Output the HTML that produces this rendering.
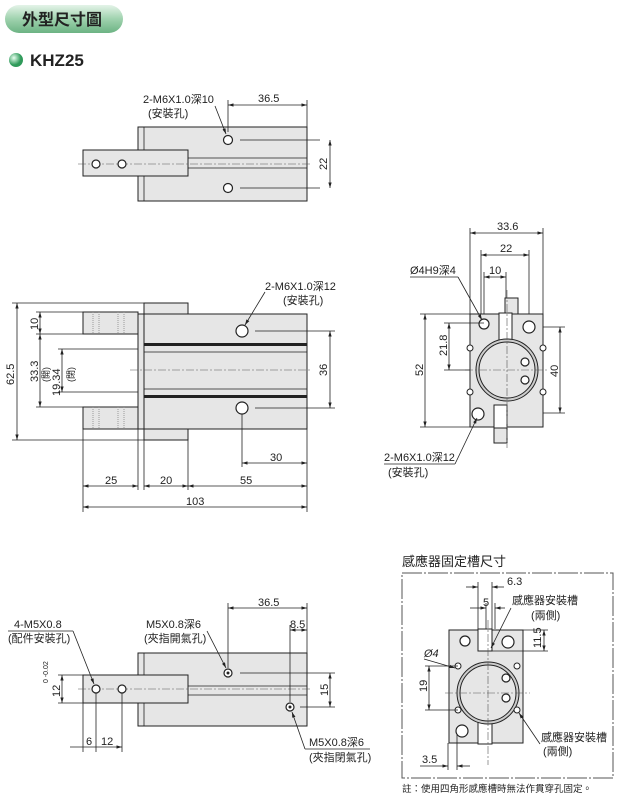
<!DOCTYPE html>
<html><head><meta charset="utf-8"><style>
body{margin:0;background:#fff}
svg{display:block}
text{font-family:"Liberation Sans","Noto Sans CJK TC",sans-serif;font-size:11px;fill:#222}
.b{fill:#e6e6e6;stroke:#222;stroke-width:1}
.l{stroke:#222;stroke-width:0.8;fill:none}
.c{stroke:#555;stroke-width:0.6;stroke-dasharray:8 2 2 2;fill:none}
.h{fill:#fff;stroke:#222;stroke-width:1.2}
</style></head><body>
<svg width="620" height="799" viewBox="0 0 620 799">
<defs>
<marker id="a" viewBox="0 0 10 10" refX="10" refY="5" markerWidth="7" markerHeight="7" orient="auto-start-reverse"><path d="M0,2 L10,5 L0,8z" fill="#222"/></marker>
<linearGradient id="g" x1="0" y1="0" x2="0" y2="1"><stop offset="0" stop-color="#e4f3e8"/><stop offset="0.5" stop-color="#9fd2ae"/><stop offset="1" stop-color="#6cb383"/></linearGradient>
<radialGradient id="ball" cx="0.35" cy="0.35"><stop offset="0" stop-color="#e8fff0"/><stop offset="1" stop-color="#2f9a5a"/></radialGradient>
</defs>
<rect x="5" y="5" width="118" height="28" rx="14" fill="url(#g)"/>
<text x="22" y="25" style="font-size:16px;font-weight:bold">外型尺寸圖</text>
<circle cx="16" cy="60" r="7" fill="url(#ball)"/>
<text x="30" y="66" style="font-size:17px;font-weight:bold">KHZ25</text>

<!-- top view -->
<rect class="b" x="138" y="127" width="169" height="74"/>
<line class="l" x1="144" y1="127" x2="144" y2="201"/>
<rect class="b" x="83" y="150" width="105" height="26"/>
<line class="l" x1="188" y1="158" x2="307" y2="158"/><line class="l" x1="188" y1="168" x2="307" y2="168"/>
<line class="c" x1="78" y1="164" x2="312" y2="164"/>
<circle class="h" cx="228" cy="140" r="4.5"/><circle class="h" cx="228" cy="188" r="4.5"/>
<circle class="h" cx="96" cy="164" r="4"/><circle class="h" cx="122" cy="164" r="4"/>
<line class="l" x1="240" y1="140" x2="320" y2="140"/><line class="l" x1="240" y1="188" x2="320" y2="188"/>
<line class="l" x1="228" y1="100" x2="228" y2="132"/><line class="l" x1="307" y1="100" x2="307" y2="127"/>
<line class="l" x1="228" y1="105" x2="307" y2="105" marker-start="url(#a)" marker-end="url(#a)"/>
<text x="258" y="102">36.5</text>
<line class="l" x1="330" y1="140" x2="330" y2="188" marker-start="url(#a)" marker-end="url(#a)"/>
<text transform="translate(327,170) rotate(-90)">22</text>
<text x="143" y="103">2-M6X1.0深10</text><text x="148" y="117">(安裝孔)</text>
<line class="l" x1="215" y1="106" x2="226" y2="134" marker-end="url(#a)"/>

<!-- front view -->
<rect class="b" x="144" y="303" width="44" height="137"/>
<rect class="b" x="144" y="314" width="163" height="115"/>
<rect class="b" x="138" y="314" width="6" height="115"/>
<rect class="b" x="83" y="312" width="55" height="22"/>
<rect class="b" x="83" y="407" width="55" height="22"/>
<g stroke="#999" stroke-dasharray="1 1"><line x1="93" y1="312" x2="93" y2="334"/><line x1="99" y1="312" x2="99" y2="334"/><line x1="118" y1="312" x2="118" y2="334"/><line x1="124" y1="312" x2="124" y2="334"/><line x1="93" y1="407" x2="93" y2="429"/><line x1="99" y1="407" x2="99" y2="429"/><line x1="118" y1="407" x2="118" y2="429"/><line x1="124" y1="407" x2="124" y2="429"/></g>
<rect x="144" y="343" width="163" height="3" fill="#222"/><rect x="144" y="395" width="163" height="3" fill="#222"/>
<line class="l" x1="144" y1="352" x2="307" y2="352"/><line class="l" x1="144" y1="389" x2="307" y2="389"/>
<line class="c" x1="130" y1="370" x2="312" y2="370"/>
<circle class="h" cx="242" cy="331" r="6"/><circle class="h" cx="242" cy="408" r="6"/>
<line class="l" x1="255" y1="331" x2="335" y2="331"/><line class="l" x1="255" y1="408" x2="335" y2="408"/>
<line class="l" x1="330" y1="331" x2="330" y2="408" marker-start="url(#a)" marker-end="url(#a)"/>
<text transform="translate(327,376) rotate(-90)">36</text>
<text x="265" y="290">2-M6X1.0深12</text><text x="283" y="304">(安裝孔)</text>
<line class="l" x1="265" y1="292" x2="245" y2="325" marker-end="url(#a)"/>
<line class="l" x1="12" y1="303" x2="144" y2="303"/><line class="l" x1="12" y1="440" x2="144" y2="440"/>
<line class="l" x1="17" y1="303" x2="17" y2="440" marker-start="url(#a)" marker-end="url(#a)"/>
<text transform="translate(14,385) rotate(-90)">62.5</text>
<line class="l" x1="36" y1="312" x2="83" y2="312"/><line class="l" x1="36" y1="334" x2="83" y2="334"/><line class="l" x1="36" y1="407" x2="83" y2="407"/>
<line class="l" x1="40" y1="312" x2="40" y2="334" marker-start="url(#a)" marker-end="url(#a)"/>
<text transform="translate(38,330) rotate(-90)">10</text>
<line class="l" x1="40" y1="334" x2="40" y2="407" marker-start="url(#a)" marker-end="url(#a)"/>
<text transform="translate(38,382) rotate(-90)">33.3</text>
<text transform="translate(49,382) rotate(-90)" style="font-size:9px">(開)</text>
<line class="l" x1="58" y1="349" x2="138" y2="349"/><line class="l" x1="58" y1="392" x2="138" y2="392"/>
<line class="l" x1="62" y1="349" x2="62" y2="392" marker-start="url(#a)" marker-end="url(#a)"/>
<text transform="translate(60,396) rotate(-90)">19.34</text>
<text transform="translate(74,382) rotate(-90)" style="font-size:9px">(閉)</text>
<g class="l"><line x1="83" y1="429" x2="83" y2="512"/><line x1="138" y1="429" x2="138" y2="490"/><line x1="144" y1="440" x2="144" y2="490"/><line x1="188" y1="440" x2="188" y2="490"/><line x1="307" y1="429" x2="307" y2="512"/><line x1="242" y1="414" x2="242" y2="467"/></g>
<line class="l" x1="242" y1="463" x2="307" y2="463" marker-start="url(#a)" marker-end="url(#a)"/><text x="270" y="461">30</text>
<line class="l" x1="83" y1="486" x2="138" y2="486" marker-start="url(#a)" marker-end="url(#a)"/><text x="105" y="484">25</text>
<line class="l" x1="144" y1="486" x2="188" y2="486" marker-start="url(#a)" marker-end="url(#a)"/><text x="160" y="484">20</text>
<line class="l" x1="188" y1="486" x2="307" y2="486" marker-start="url(#a)" marker-end="url(#a)"/><text x="240" y="484">55</text>
<line class="l" x1="83" y1="507" x2="307" y2="507" marker-start="url(#a)" marker-end="url(#a)"/><text x="186" y="505">103</text>

<!-- side view -->
<rect class="b" x="505" y="298" width="13" height="20"/>
<rect class="b" x="494" y="423" width="13" height="20"/>
<rect class="b" x="470" y="314" width="73" height="113"/>
<rect x="499" y="313" width="13" height="27" fill="#fff" stroke="#222"/>
<rect x="494" y="405" width="13" height="23" fill="#fff" stroke="#222"/>
<circle cx="507" cy="370" r="31" fill="#ccc" stroke="#222"/>
<circle cx="507" cy="370" r="28" fill="#e6e6e6" stroke="#222"/>
<circle class="h" cx="525" cy="362" r="4"/><circle class="h" cx="525" cy="380" r="4"/>
<circle class="h" cx="484" cy="324" r="5"/><circle class="h" cx="529" cy="327" r="6"/><circle class="h" cx="478" cy="414" r="6"/>
<g fill="#fff" stroke="#222"><circle cx="470" cy="348" r="3"/><circle cx="543" cy="348" r="3"/><circle cx="470" cy="392" r="3"/><circle cx="543" cy="392" r="3"/></g>
<line class="c" x1="465" y1="370" x2="548" y2="370"/><line class="c" x1="507" y1="290" x2="507" y2="448"/>
<g class="l"><line x1="470" y1="228" x2="470" y2="314"/><line x1="543" y1="228" x2="543" y2="314"/><line x1="481" y1="250" x2="481" y2="314"/><line x1="529" y1="250" x2="529" y2="314"/><line x1="484" y1="272" x2="484" y2="314"/><line x1="506" y1="272" x2="506" y2="298"/>
<line x1="420" y1="314" x2="470" y2="314"/><line x1="420" y1="427" x2="470" y2="427"/><line x1="444" y1="323" x2="484" y2="323"/><line x1="444" y1="370" x2="470" y2="370"/><line x1="543" y1="327" x2="565" y2="327"/><line x1="543" y1="413" x2="565" y2="413"/></g>
<line class="l" x1="470" y1="233" x2="543" y2="233" marker-start="url(#a)" marker-end="url(#a)"/><text x="497" y="230">33.6</text>
<line class="l" x1="481" y1="255" x2="529" y2="255" marker-start="url(#a)" marker-end="url(#a)"/><text x="500" y="252">22</text>
<line class="l" x1="484" y1="277" x2="506" y2="277" marker-start="url(#a)" marker-end="url(#a)"/><text x="489" y="274">10</text>
<line class="l" x1="425" y1="314" x2="425" y2="427" marker-start="url(#a)" marker-end="url(#a)"/><text transform="translate(423,376) rotate(-90)">52</text>
<line class="l" x1="449" y1="323" x2="449" y2="370" marker-start="url(#a)" marker-end="url(#a)"/><text transform="translate(447,356) rotate(-90)">21.8</text>
<line class="l" x1="560" y1="327" x2="560" y2="413" marker-start="url(#a)" marker-end="url(#a)"/><text transform="translate(558,377) rotate(-90)">40</text>
<text x="410" y="274">Ø4H9深4</text><line class="l" x1="410" y1="277" x2="458" y2="277"/><line class="l" x1="458" y1="277" x2="482" y2="320" marker-end="url(#a)"/>
<text x="384" y="461">2-M6X1.0深12</text><text x="388" y="476">(安裝孔)</text>
<line class="l" x1="384" y1="464" x2="455" y2="464"/><line class="l" x1="455" y1="464" x2="477" y2="418" marker-end="url(#a)"/>

<!-- bottom view -->
<rect class="b" x="138" y="653" width="169" height="73"/>
<line class="l" x1="144" y1="653" x2="144" y2="726"/>
<rect class="b" x="83" y="675" width="105" height="28"/>
<line class="l" x1="188" y1="686" x2="307" y2="686"/><line class="l" x1="188" y1="695" x2="307" y2="695"/>
<line class="c" x1="78" y1="689" x2="312" y2="689"/>
<circle class="h" cx="96" cy="689" r="4"/><circle class="h" cx="122" cy="689" r="4"/>
<circle class="h" cx="228" cy="673" r="4"/><circle cx="228" cy="673" r="1.5" fill="#222"/>
<circle class="h" cx="290" cy="707" r="4"/><circle cx="290" cy="707" r="1.5" fill="#222"/>
<g class="l"><line x1="228" y1="603" x2="228" y2="668"/><line x1="307" y1="603" x2="307" y2="653"/><line x1="290" y1="625" x2="290" y2="702"/><line x1="240" y1="673" x2="335" y2="673"/><line x1="300" y1="707" x2="335" y2="707"/>
<line x1="58" y1="675" x2="83" y2="675"/><line x1="58" y1="703" x2="83" y2="703"/><line x1="83" y1="703" x2="83" y2="752"/><line x1="96" y1="693" x2="96" y2="752"/><line x1="122" y1="693" x2="122" y2="752"/></g>
<line class="l" x1="228" y1="608" x2="307" y2="608" marker-start="url(#a)" marker-end="url(#a)"/><text x="258" y="606">36.5</text>
<line class="l" x1="290" y1="630" x2="307" y2="630" marker-start="url(#a)" marker-end="url(#a)"/><text x="290" y="628">8.5</text>
<line class="l" x1="330" y1="673" x2="330" y2="707" marker-start="url(#a)" marker-end="url(#a)"/><text transform="translate(328,696) rotate(-90)">15</text>
<line class="l" x1="62" y1="675" x2="62" y2="703" marker-start="url(#a)" marker-end="url(#a)"/><text transform="translate(60,697) rotate(-90)">12</text>
<text transform="translate(48,683) rotate(-90)" style="font-size:7px">0 -0.02</text>
<line class="l" x1="70" y1="747" x2="122" y2="747" marker-end="url(#a)"/><text x="86" y="745">6</text><text x="101" y="745">12</text>
<text x="14" y="628">4-M5X0.8</text><text x="8" y="642">(配件安裝孔)</text>
<line class="l" x1="8" y1="631" x2="73" y2="631"/><line class="l" x1="73" y1="631" x2="94" y2="684" marker-end="url(#a)"/>
<text x="146" y="628">M5X0.8深6</text><text x="144" y="642">(夾指開氣孔)</text>
<line class="l" x1="207" y1="631" x2="226" y2="668" marker-end="url(#a)"/>
<text x="309" y="746">M5X0.8深6</text><text x="309" y="761">(夾指閉氣孔)</text>
<line class="l" x1="305" y1="749" x2="370" y2="749"/><line class="l" x1="305" y1="749" x2="292" y2="712" marker-end="url(#a)"/>

<!-- sensor slot -->
<text x="402" y="566" style="font-size:13px">感應器固定槽尺寸</text>
<rect x="402" y="573" width="211" height="205" fill="none" stroke="#555" stroke-dasharray="20 2 2 2"/>
<rect class="b" x="449" y="630" width="74" height="113"/>
<rect x="478" y="629" width="14" height="22" fill="#fff" stroke="#222"/>
<rect x="478" y="722" width="14" height="22" fill="#fff" stroke="#222"/>
<circle cx="488" cy="693" r="31" fill="#ccc" stroke="#222"/>
<circle cx="488" cy="693" r="28" fill="#e6e6e6" stroke="#222"/>
<circle class="h" cx="506" cy="678" r="4"/><circle class="h" cx="506" cy="698" r="4"/>
<circle class="h" cx="465" cy="641" r="5"/><circle class="h" cx="508" cy="642" r="6"/><circle class="h" cx="462" cy="731" r="6"/>
<g fill="#fff" stroke="#222"><circle cx="458" cy="666" r="3"/><circle cx="517" cy="666" r="3"/><circle cx="458" cy="710" r="3"/><circle cx="517" cy="710" r="3"/></g>
<line class="c" x1="445" y1="693" x2="530" y2="693"/><line class="c" x1="488" y1="620" x2="488" y2="765"/>
<g class="l"><line x1="478" y1="582" x2="478" y2="629"/><line x1="492" y1="582" x2="492" y2="629"/><line x1="486" y1="603" x2="486" y2="629"/><line x1="495" y1="603" x2="495" y2="629"/><line x1="523" y1="630" x2="548" y2="630"/><line x1="492" y1="651" x2="548" y2="651"/><line x1="425" y1="666" x2="458" y2="666"/><line x1="425" y1="710" x2="458" y2="710"/><line x1="448" y1="743" x2="448" y2="770"/><line x1="457" y1="735" x2="457" y2="770"/></g>
<line class="l" x1="466" y1="587" x2="478" y2="587" marker-end="url(#a)"/><line class="l" x1="492" y1="587" x2="504" y2="587" marker-start="url(#a)"/><text x="507" y="585">6.3</text>
<line class="l" x1="470" y1="608" x2="486" y2="608" marker-end="url(#a)"/><line class="l" x1="495" y1="608" x2="505" y2="608" marker-start="url(#a)"/><text x="483" y="606">5</text>
<line class="l" x1="544" y1="630" x2="544" y2="651" marker-start="url(#a)" marker-end="url(#a)"/><text transform="translate(541,648) rotate(-90)">11.5</text>
<line class="l" x1="429" y1="666" x2="429" y2="710" marker-start="url(#a)" marker-end="url(#a)"/><text transform="translate(427,692) rotate(-90)">19</text>
<line class="l" x1="420" y1="766" x2="448" y2="766" marker-end="url(#a)"/><line class="l" x1="457" y1="766" x2="470" y2="766" marker-start="url(#a)"/><text x="422" y="763">3.5</text>
<text x="512" y="604">感應器安裝槽</text><text x="531" y="619">(兩側)</text>
<line class="l" x1="511" y1="608" x2="491" y2="648" marker-end="url(#a)"/>
<text x="424" y="657" style="font-style:italic">Ø4</text><line class="l" x1="424" y1="659" x2="455" y2="668" marker-end="url(#a)"/>
<text x="541" y="741">感應器安裝槽</text><text x="543" y="755">(兩側)</text>
<line class="l" x1="540" y1="744" x2="519" y2="713" marker-end="url(#a)"/>
<text x="402" y="792" style="font-size:9.5px">註：使用四角形感應槽時無法作貫穿孔固定。</text>
</svg>
</body></html>
